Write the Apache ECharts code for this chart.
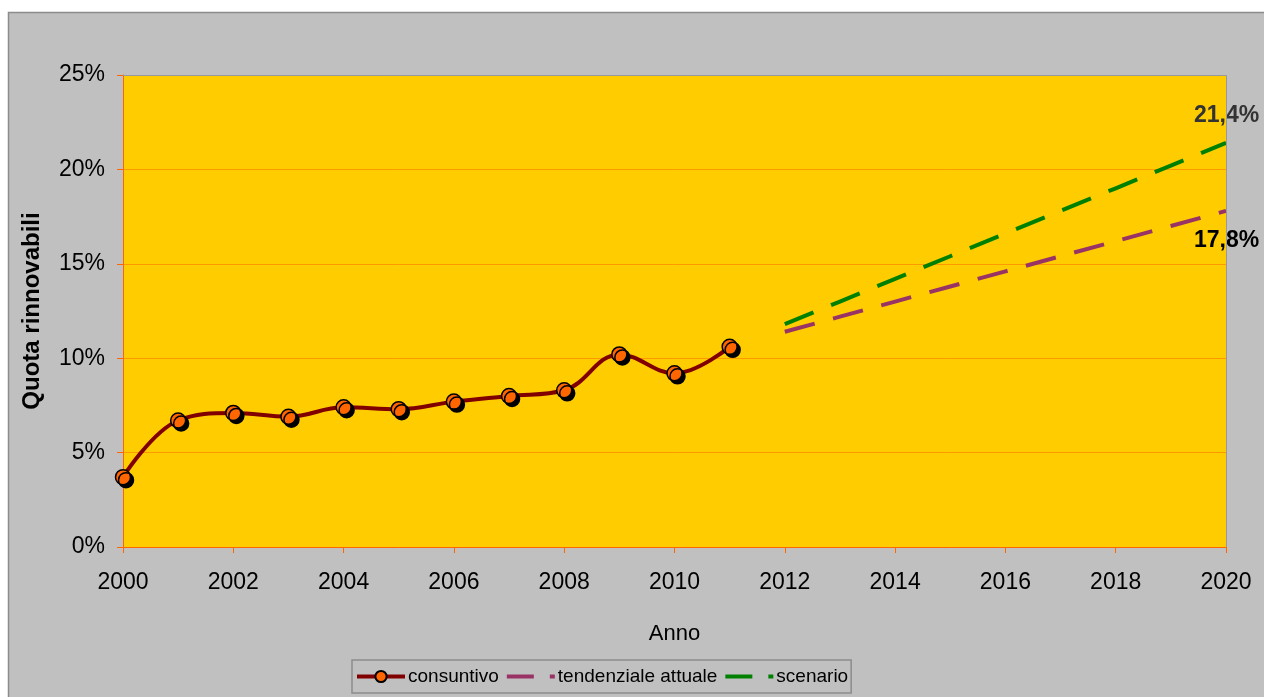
<!DOCTYPE html>
<html>
<head>
    <meta charset="utf-8">
    <title>Quota rinnovabili</title>
    <script src="https://cdn.jsdelivr.net/npm/echarts@6/dist/echarts.min.js"></script>
    <style>
        html, body { margin: 0; padding: 0; background: #fff; }
        #container { width: 1264px; height: 697px; }
    </style>
</head>
<body>
<div id="container"></div>
<script type="text/javascript">

    // anni a consuntivo
    var anniConsuntivo = [2000, 2001, 2002, 2003, 2004, 2005, 2006, 2007, 2008, 2009, 2010, 2011];
    // quota rinnovabili a consuntivo (%)
    var consuntivo = [3.7, 6.7, 7.1, 6.9, 7.4, 7.3, 7.7, 8.0, 8.3, 10.2, 9.2, 10.6];
    // anni di proiezione
    var anniProiezione = [2012, 2013, 2014, 2015, 2016, 2017, 2018, 2019, 2020];
    // tendenziale attuale (%)
    var tendenziale = [11.4, 12.2, 13.0, 13.8, 14.6, 15.4, 16.2, 17.0, 17.8];
    // scenario (%)
    var scenario = [11.8, 13.0, 14.2, 15.4, 16.6, 17.8, 19.0, 20.2, 21.4];

    function coppie(xs, ys) {
        var out = [];
        for (var i = 0; i < xs.length; i++) {
            out.push([xs[i], ys[i]]);
        }
        return out;
    }

    var font = 'Liberation Sans, Arial, sans-serif';
    var dom = document.getElementById('container');
    var myChart = echarts.init(dom, null, {renderer: 'canvas'});

    var option = {
        animation: false,
        backgroundColor: '#ffffff',
        textStyle: {fontFamily: font},
        graphic: [
            {
                type: 'rect',
                z: -10,
                shape: {x: 8.5, y: 12.5, width: 1300, height: 720},
                style: {fill: '#c0c0c0', stroke: '#8c8c8c', lineWidth: 1.5}
            },
            {
                type: 'polyline',
                z: 100,
                shape: {points: [[123, 75.5], [1226.5, 75.5], [1226.5, 547]]},
                style: {stroke: '#999999', lineWidth: 1, fill: null}
            }
        ],
        grid: {
            left: 123,
            top: 75,
            width: 1103,
            height: 472,
            show: true,
            backgroundColor: '#ffcc00',
            borderWidth: 0
        },
        legend: {
            left: 352,
            top: 660,
            padding: [7, 3, 7, 3],
            backgroundColor: '#c0c0c0',
            borderColor: '#8c8c8c',
            borderWidth: 1.5,
            itemGap: 6,
            itemWidth: 48,
            itemHeight: 14,
            textStyle: {fontSize: 19, color: '#000', fontFamily: font, padding: [0, 0, 0, -2]},
            data: [
                {name: 'consuntivo', lineStyle: {width: 4}, itemStyle: {shadowOffsetX: 0, shadowOffsetY: 0}},
                {name: 'tendenziale attuale', lineStyle: {width: 4, type: [27, 16]},
                    itemStyle: {opacity: 0}},
                {name: 'scenario', lineStyle: {width: 4, type: [27, 16]},
                    itemStyle: {opacity: 0}}
            ]
        },
        xAxis: {
            type: 'value',
            min: 2000,
            max: 2020,
            interval: 2,
            name: 'Anno',
            nameLocation: 'middle',
            nameGap: 76,
            nameTextStyle: {fontSize: 22, color: '#000', fontFamily: font},
            axisLine: {show: true, lineStyle: {color: '#ff6600', width: 1}},
            axisTick: {show: true, length: 6, lineStyle: {color: '#ff6600'}},
            axisLabel: {
                fontSize: 23,
                color: '#000',
                margin: 24,
                formatter: function (v) { return String(v); }
            },
            splitLine: {show: false}
        },
        yAxis: {
            type: 'value',
            min: 0,
            max: 25,
            interval: 5,
            name: 'Quota rinnovabili',
            nameLocation: 'middle',
            nameGap: 79,
            nameTextStyle: {fontSize: 24, fontWeight: 'bold', color: '#000', fontFamily: font},
            axisLine: {show: true, lineStyle: {color: '#ff6600', width: 1}},
            axisTick: {show: true, length: 6, lineStyle: {color: '#ff6600'}},
            axisLabel: {
                fontSize: 23,
                color: '#000',
                margin: 18,
                formatter: '{value}%'
            },
            splitLine: {show: true, lineStyle: {color: '#ff9900', width: 1}}
        },
        series: [
            {
                name: 'consuntivo',
                type: 'line',
                smooth: 0.4,
                clip: false,
                data: coppie(anniConsuntivo, consuntivo),
                symbol: 'circle',
                symbolSize: 15,
                lineStyle: {color: '#800000', width: 4},
                itemStyle: {
                    color: '#ff6600',
                    borderColor: '#000',
                    borderWidth: 1.5,
                    shadowColor: '#000',
                    shadowBlur: 0,
                    shadowOffsetX: 3,
                    shadowOffsetY: 3
                },
                z: 5
            },
            {
                name: 'tendenziale attuale',
                type: 'line',
                data: coppie(anniProiezione, tendenziale),
                showSymbol: false,
                symbol: 'none',
                color: '#993366',
                lineStyle: {color: '#993366', width: 4, type: [31, 19]},
                endLabel: {
                    show: true,
                    formatter: '17,8%',
                    fontSize: 23,
                    fontWeight: 'bold',
                    color: '#000',
                    fontFamily: font,
                    offset: [-40, 30]
                },
                z: 3
            },
            {
                name: 'scenario',
                type: 'line',
                data: coppie(anniProiezione, scenario),
                showSymbol: false,
                symbol: 'none',
                color: '#008000',
                lineStyle: {color: '#008000', width: 4, type: [31, 19]},
                endLabel: {
                    show: true,
                    formatter: '21,4%',
                    fontSize: 23,
                    fontWeight: 'bold',
                    color: '#333333',
                    fontFamily: font,
                    offset: [-40, -27]
                },
                z: 4
            }
        ]
    };

    myChart.setOption(option, true);

</script>
</body>
</html>
